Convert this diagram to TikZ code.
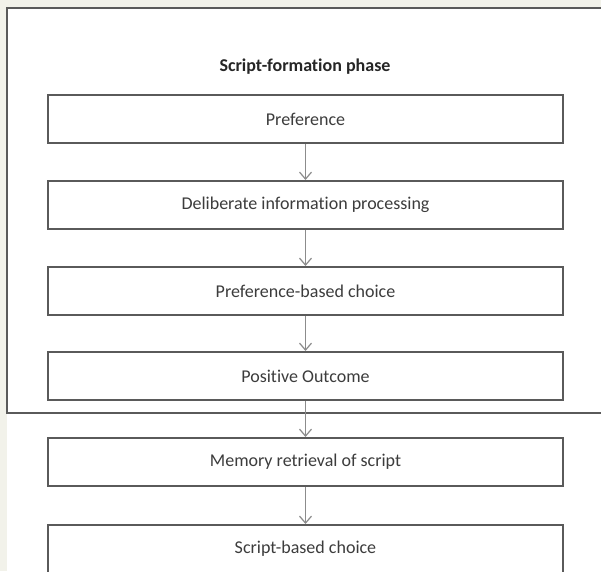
\documentclass[tikz,border=0pt]{standalone}
\usepackage{fontspec}
\setmainfont{Carlito}[RawFeature=-liga]
\usetikzlibrary{arrows.meta}
\definecolor{boxgray}{HTML}{5A5A5A}
\definecolor{arrgray}{HTML}{8C8C8C}
\definecolor{txtgray}{HTML}{3C3C3C}
\definecolor{bgbeige}{HTML}{F2F2EA}

\begin{document}
\begin{tikzpicture}[x=1pt,y=-1pt,
  stage/.style={rectangle,draw=boxgray,line width=2pt,minimum width=515pt,minimum height=48pt,inner sep=0pt,text=txtgray,font=\fontsize{18}{20}\selectfont},
  arr/.style={draw=arrgray,line width=1.2pt,-{Straight Barb[length=7pt,width=12pt]}}]
\useasboundingbox (0,0) rectangle (601,571);
\clip (0,0) rectangle (601,571);
\fill[bgbeige] (0,0) rectangle (601,571);
\fill[white] (7,8) rectangle (620,580);
\draw[boxgray,line width=2pt] (620,413) -- (7,413) -- (7,8) -- (620,8);
\path (305,67) node(title)[text=black!85,font=\bfseries\fontsize{18}{20}\selectfont]{Script-formation phase}
(305.5,119) node(a)[stage]{Preference}
(305.5,205) node(b)[stage]{Deliberate information processing}
(305.5,291) node(c)[stage]{Preference-based choice}
(305.5,376) node(d)[stage]{Positive Outcome}
(305.5,462) node(e)[stage]{Memory retrieval of script}
(305.5,549) node(f)[stage]{Script-based choice};
\draw[arr](a.south)--(b);
\draw[arr](b.south)--(c);
\draw[arr](c.south)--(d);
\draw[arr](d.south)--(e);
\draw[arr](e.south)--(f);

\end{tikzpicture}
\end{document}
